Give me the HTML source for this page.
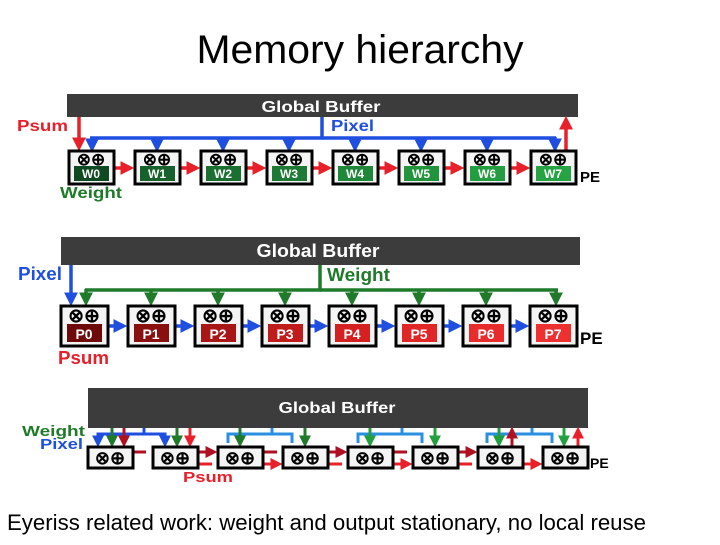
<!DOCTYPE html>
<html><head><meta charset="utf-8"><style>
body{margin:0;background:#fff;width:720px;height:540px;overflow:hidden}
svg text{font-family:"Liberation Sans",sans-serif;font-weight:bold}
</style></head><body>
<svg width="720" height="540" viewBox="0 0 720 540" xmlns="http://www.w3.org/2000/svg">
<defs>
<marker id="ar" markerWidth="4" markerHeight="4" refX="2.2" refY="2" orient="auto" markerUnits="strokeWidth"><path d="M0,0L4,2L0,4z" fill="#e8202a"/></marker>
<marker id="ab" markerWidth="4" markerHeight="4" refX="2.2" refY="2" orient="auto" markerUnits="strokeWidth"><path d="M0,0L4,2L0,4z" fill="#1f4fe0"/></marker>
<marker id="ag" markerWidth="4" markerHeight="4" refX="2.2" refY="2" orient="auto" markerUnits="strokeWidth"><path d="M0,0L4,2L0,4z" fill="#1f7a2a"/></marker>
<marker id="alb" markerWidth="4" markerHeight="4" refX="2.2" refY="2" orient="auto" markerUnits="strokeWidth"><path d="M0,0L4,2L0,4z" fill="#2a8fe0"/></marker>
<marker id="alg" markerWidth="4" markerHeight="4" refX="2.2" refY="2" orient="auto" markerUnits="strokeWidth"><path d="M0,0L4,2L0,4z" fill="#22a040"/></marker>
<marker id="adr" markerWidth="4" markerHeight="4" refX="2.2" refY="2" orient="auto" markerUnits="strokeWidth"><path d="M0,0L4,2L0,4z" fill="#b01020"/></marker>
</defs>
<text x="360" y="63" text-anchor="middle" style="font-family:'Liberation Sans',sans-serif;font-weight:normal;font-size:40px" fill="#000" textLength="327" lengthAdjust="spacingAndGlyphs">Memory hierarchy</text>

<!-- Panel 1 -->
<rect x="67" y="94" width="511" height="23" fill="#3c3c3c"/>
<text x="321" y="112" text-anchor="middle" font-size="16" fill="#fff" textLength="119" lengthAdjust="spacingAndGlyphs">Global Buffer</text>
<text x="17" y="131" font-size="16" fill="#e8202a" textLength="51" lengthAdjust="spacingAndGlyphs">Psum</text>
<text x="331" y="131" font-size="16" fill="#1f4fe0" textLength="43" lengthAdjust="spacingAndGlyphs">Pixel</text>
<line x1="79" y1="117" x2="79" y2="145" stroke="#e8202a" stroke-width="3.5" marker-end="url(#ar)"/>
<polyline points="322,117 322,138 90,138" fill="none" stroke="#1f4fe0" stroke-width="3.5"/>
<line x1="322" y1="138" x2="556" y2="138" stroke="#1f4fe0" stroke-width="3.5"/>
<g stroke="#1f4fe0" stroke-width="3.5" marker-end="url(#ab)">
<line x1="92" y1="137" x2="92" y2="146"/><line x1="157" y1="137" x2="157" y2="146"/><line x1="223" y1="137" x2="223" y2="146"/><line x1="289" y1="137" x2="289" y2="146"/><line x1="355" y1="137" x2="355" y2="146"/><line x1="421" y1="137" x2="421" y2="146"/><line x1="487" y1="137" x2="487" y2="146"/><line x1="555" y1="137" x2="555" y2="146"/>
</g>
<line x1="566" y1="150" x2="566" y2="122" stroke="#e8202a" stroke-width="3.5" marker-end="url(#ar)"/>
<g stroke="#e8202a" stroke-width="3.5" marker-end="url(#ar)">
<line x1="115" y1="168" x2="128" y2="168"/><line x1="181" y1="168" x2="194" y2="168"/><line x1="247" y1="168" x2="260" y2="168"/><line x1="313" y1="168" x2="326" y2="168"/><line x1="379" y1="168" x2="392" y2="168"/><line x1="445" y1="168" x2="458" y2="168"/><line x1="511" y1="168" x2="524" y2="168"/>
</g>
<g stroke="#000" stroke-width="3" fill="#f4f4f4">
<rect x="69" y="151" width="45" height="33"/><rect x="135" y="151" width="45" height="33"/><rect x="201" y="151" width="45" height="33"/><rect x="267" y="151" width="45" height="33"/><rect x="333" y="151" width="45" height="33"/><rect x="399" y="151" width="45" height="33"/><rect x="465" y="151" width="45" height="33"/><rect x="531" y="151" width="45" height="33"/>
</g>
<rect x="74" y="166" width="35" height="15" fill="#0f4a22"/><rect x="140" y="166" width="35" height="15" fill="#17622c"/><rect x="206" y="166" width="35" height="15" fill="#1a7030"/><rect x="272" y="166" width="35" height="15" fill="#1c7a34"/><rect x="338" y="166" width="35" height="15" fill="#1f8838"/><rect x="404" y="166" width="35" height="15" fill="#22943c"/><rect x="470" y="166" width="35" height="15" fill="#249c40"/><rect x="536" y="166" width="35" height="15" fill="#26a444"/>
<g font-size="12" fill="#fff" text-anchor="middle">
<text x="91" y="178">W0</text><text x="157" y="178">W1</text><text x="223" y="178">W2</text><text x="289" y="178">W3</text><text x="355" y="178">W4</text><text x="421" y="178">W5</text><text x="487" y="178">W6</text><text x="553" y="178">W7</text>
</g>
<g font-size="17" fill="#000" text-anchor="middle" style="font-weight:normal">
<text x="91" y="165">⊗⊕</text><text x="157" y="165">⊗⊕</text><text x="223" y="165">⊗⊕</text><text x="289" y="165">⊗⊕</text><text x="355" y="165">⊗⊕</text><text x="421" y="165">⊗⊕</text><text x="487" y="165">⊗⊕</text><text x="553" y="165">⊗⊕</text>
</g>
<text x="580" y="182" font-size="15" fill="#000">PE</text>
<text x="60" y="198" font-size="16" fill="#1f7a2a" textLength="62" lengthAdjust="spacingAndGlyphs">Weight</text>

<!-- Panel 2 -->
<rect x="61" y="237" width="519" height="28" fill="#3c3c3c"/>
<text x="318" y="257" text-anchor="middle" font-size="18" fill="#fff" textLength="123" lengthAdjust="spacingAndGlyphs">Global Buffer</text>
<text x="18" y="280" font-size="18" fill="#1f4fe0" textLength="44" lengthAdjust="spacingAndGlyphs">Pixel</text>
<text x="327" y="281" font-size="18" fill="#1f7a2a" textLength="63" lengthAdjust="spacingAndGlyphs">Weight</text>
<line x1="71" y1="265" x2="71" y2="300" stroke="#1f4fe0" stroke-width="3.5" marker-end="url(#ab)"/>
<polyline points="320,265 320,290 85,290" fill="none" stroke="#1f7a2a" stroke-width="3.5"/>
<line x1="320" y1="290" x2="558" y2="290" stroke="#1f7a2a" stroke-width="3.5"/>
<g stroke="#1f7a2a" stroke-width="3.5" marker-end="url(#ag)">
<line x1="86" y1="289" x2="86" y2="300"/><line x1="151" y1="289" x2="151" y2="300"/><line x1="218" y1="289" x2="218" y2="300"/><line x1="285" y1="289" x2="285" y2="300"/><line x1="352" y1="289" x2="352" y2="300"/><line x1="419" y1="289" x2="419" y2="300"/><line x1="486" y1="289" x2="486" y2="300"/><line x1="556" y1="289" x2="556" y2="300"/>
</g>
<g stroke="#1f4fe0" stroke-width="3.5" marker-end="url(#ab)">
<line x1="108" y1="326" x2="121" y2="326"/><line x1="175" y1="326" x2="188" y2="326"/><line x1="242" y1="326" x2="255" y2="326"/><line x1="309" y1="326" x2="322" y2="326"/><line x1="376" y1="326" x2="389" y2="326"/><line x1="443" y1="326" x2="456" y2="326"/><line x1="510" y1="326" x2="523" y2="326"/>
</g>
<g stroke="#000" stroke-width="3" fill="#f4f4f4">
<rect x="61" y="306" width="47" height="40"/><rect x="128" y="306" width="47" height="40"/><rect x="195" y="306" width="47" height="40"/><rect x="262" y="306" width="47" height="40"/><rect x="329" y="306" width="47" height="40"/><rect x="396" y="306" width="47" height="40"/><rect x="463" y="306" width="47" height="40"/><rect x="530" y="306" width="47" height="40"/>
</g>
<rect x="67" y="324" width="35" height="18" fill="#6e0a0a"/><rect x="134" y="324" width="35" height="18" fill="#8a1010"/><rect x="201" y="324" width="35" height="18" fill="#a81616"/><rect x="268" y="324" width="35" height="18" fill="#c01c1c"/><rect x="335" y="324" width="35" height="18" fill="#d42020"/><rect x="402" y="324" width="35" height="18" fill="#e02626"/><rect x="469" y="324" width="35" height="18" fill="#e82c2c"/><rect x="536" y="324" width="35" height="18" fill="#ee3030"/>
<g font-size="14" fill="#fff" text-anchor="middle">
<text x="84" y="339">P0</text><text x="151" y="339">P1</text><text x="218" y="339">P2</text><text x="285" y="339">P3</text><text x="352" y="339">P4</text><text x="419" y="339">P5</text><text x="486" y="339">P6</text><text x="553" y="339">P7</text>
</g>
<g font-size="19" fill="#000" text-anchor="middle" style="font-weight:normal">
<text x="84" y="322">⊗⊕</text><text x="151" y="322">⊗⊕</text><text x="218" y="322">⊗⊕</text><text x="285" y="322">⊗⊕</text><text x="352" y="322">⊗⊕</text><text x="419" y="322">⊗⊕</text><text x="486" y="322">⊗⊕</text><text x="553" y="322">⊗⊕</text>
</g>
<text x="580" y="344" font-size="17" fill="#000">PE</text>
<text x="58" y="364" font-size="18" fill="#e8202a" textLength="51" lengthAdjust="spacingAndGlyphs">Psum</text>

<!-- Panel 3 -->
<rect x="88" y="388" width="500" height="40" fill="#3c3c3c"/>
<text x="337" y="413" text-anchor="middle" font-size="16" fill="#fff" textLength="117" lengthAdjust="spacingAndGlyphs">Global Buffer</text>
<text x="22" y="436" font-size="15" fill="#1f7a2a" textLength="63" lengthAdjust="spacingAndGlyphs">Weight</text>
<text x="40" y="449" font-size="15" fill="#1f4fe0" textLength="43" lengthAdjust="spacingAndGlyphs">Pixel</text>
<polyline points="98,443 98,434 165,434 165,443" fill="none" stroke="#1f4fe0" stroke-width="3" />
<line x1="144" y1="428" x2="144" y2="434" stroke="#1f4fe0" stroke-width="3"/>
<line x1="98" y1="436" x2="98" y2="442" stroke="#1f4fe0" stroke-width="3" marker-end="url(#ab)"/>
<line x1="165" y1="436" x2="165" y2="442" stroke="#1f4fe0" stroke-width="3" marker-end="url(#ab)"/>
<polyline points="228,443 228,434 292,434 292,443" fill="none" stroke="#2a8fe0" stroke-width="3"/>
<line x1="272" y1="428" x2="272" y2="434" stroke="#2a8fe0" stroke-width="3"/>
<polyline points="358,443 358,434 422,434 422,443" fill="none" stroke="#2a8fe0" stroke-width="3"/>
<line x1="402" y1="428" x2="402" y2="434" stroke="#2a8fe0" stroke-width="3"/>
<polyline points="487,443 487,434 552,434 552,443" fill="none" stroke="#2a8fe0" stroke-width="3"/>
<line x1="532" y1="428" x2="532" y2="434" stroke="#2a8fe0" stroke-width="3"/>
<g stroke-width="3">
<line x1="112" y1="428" x2="112" y2="442" stroke="#1f7a2a" marker-end="url(#ag)"/>
<line x1="177" y1="428" x2="177" y2="442" stroke="#1f7a2a" marker-end="url(#ag)"/>
<line x1="240" y1="428" x2="240" y2="442" stroke="#1f7a2a" marker-end="url(#ag)"/>
<line x1="305" y1="428" x2="305" y2="442" stroke="#1f7a2a" marker-end="url(#ag)"/>
<line x1="370" y1="428" x2="370" y2="442" stroke="#22a040" marker-end="url(#alg)"/>
<line x1="435" y1="428" x2="435" y2="442" stroke="#22a040" marker-end="url(#alg)"/>
<line x1="499" y1="428" x2="499" y2="442" stroke="#22a040" marker-end="url(#alg)"/>
<line x1="564" y1="428" x2="564" y2="442" stroke="#22a040" marker-end="url(#alg)"/>
<line x1="124" y1="428" x2="124" y2="442" stroke="#b01020" marker-end="url(#adr)"/>
<line x1="190" y1="428" x2="190" y2="442" stroke="#e8202a" marker-end="url(#ar)"/>
<line x1="512" y1="446" x2="512" y2="432" stroke="#b01020" marker-end="url(#adr)"/>
<line x1="578" y1="446" x2="578" y2="432" stroke="#e8202a" marker-end="url(#ar)"/>
</g>
<g stroke-width="3">
<line x1="134" y1="452" x2="146" y2="452" stroke="#b01020"/>
<line x1="199" y1="452" x2="212" y2="452" stroke="#b01020" marker-end="url(#adr)"/>
<line x1="199" y1="464" x2="212" y2="464" stroke="#e8202a"/>
<line x1="264" y1="452" x2="277" y2="452" stroke="#b01020"/>
<line x1="264" y1="464" x2="277" y2="464" stroke="#e8202a" marker-end="url(#ar)"/>
<line x1="329" y1="452" x2="342" y2="452" stroke="#b01020" marker-end="url(#adr)"/>
<line x1="329" y1="464" x2="342" y2="464" stroke="#e8202a"/>
<line x1="394" y1="452" x2="407" y2="452" stroke="#b01020"/>
<line x1="394" y1="464" x2="407" y2="464" stroke="#e8202a" marker-end="url(#ar)"/>
<line x1="459" y1="452" x2="472" y2="452" stroke="#b01020" marker-end="url(#adr)"/>
<line x1="459" y1="464" x2="472" y2="464" stroke="#e8202a"/>
<line x1="524" y1="464" x2="537" y2="464" stroke="#e8202a" marker-end="url(#ar)"/>
</g>
<g stroke="#000" stroke-width="3" fill="#f4f4f4">
<rect x="88" y="447" width="45" height="21"/><rect x="153" y="447" width="45" height="21"/><rect x="218" y="447" width="45" height="21"/><rect x="283" y="447" width="45" height="21"/><rect x="348" y="447" width="45" height="21"/><rect x="413" y="447" width="45" height="21"/><rect x="478" y="447" width="45" height="21"/><rect x="543" y="447" width="45" height="21"/>
</g>
<g font-size="18" fill="#000" text-anchor="middle" style="font-weight:normal">
<text x="110" y="464">⊗⊕</text><text x="175" y="464">⊗⊕</text><text x="240" y="464">⊗⊕</text><text x="305" y="464">⊗⊕</text><text x="370" y="464">⊗⊕</text><text x="435" y="464">⊗⊕</text><text x="500" y="464">⊗⊕</text><text x="565" y="464">⊗⊕</text>
</g>
<text x="590" y="468" font-size="14" fill="#000">PE</text>
<text x="183" y="482" font-size="15" fill="#e8202a" textLength="50" lengthAdjust="spacingAndGlyphs">Psum</text>

<text x="7" y="530" style="font-family:'Liberation Sans',sans-serif;font-weight:normal;font-size:22px" fill="#000" textLength="639" lengthAdjust="spacingAndGlyphs">Eyeriss related work: weight and output stationary, no local reuse</text>
</svg>
</body></html>
